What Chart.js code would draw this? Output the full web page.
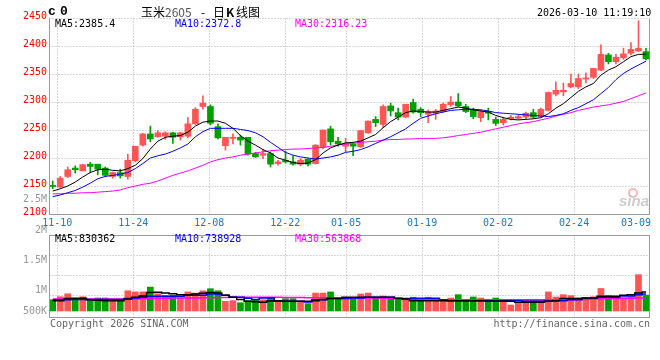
<!DOCTYPE html>
<html><head><meta charset="utf-8">
<script src="https://cdn.jsdelivr.net/npm/chart.js@4.4.1/dist/chart.umd.min.js"></script>
<style>html,body{margin:0;padding:0;background:#fff;}canvas{display:block;}</style>
</head><body>
<canvas id="c" width="660" height="360"></canvas>
<script>
// ---------- data ----------
const dates = ['11-07','11-10','11-11','11-12','11-13','11-14','11-17','11-18','11-19','11-20','11-21','11-24','11-25','11-26','11-27','11-28',
'12-01','12-02','12-03','12-04','12-05','12-08','12-09','12-10','12-11','12-12','12-15','12-16','12-17','12-18','12-19','12-22','12-23','12-24','12-25','12-26','12-29','12-30','12-31',
'01-05','01-06','01-07','01-08','01-09','01-12','01-13','01-14','01-15','01-16','01-19','01-20','01-21','01-22','01-23','01-26','01-27','01-28','01-29','01-30',
'02-02','02-03','02-04','02-05','02-06','02-09','02-10','02-11','02-12','02-13','02-24','02-25','02-26','02-27',
'03-02','03-03','03-04','03-05','03-06','03-09','03-10'];

const open = [2151,2148,2167,2182,2177,2189,2189,2182,2167,2174,
2167,2195,2223,2243,2238,2239,2245,2238,2239,2261,
2292,2292,2256,2222,2235,2237,2237,2208,2205,2208,
2190,2196,2193,2189,2198,2190,2219,2252,2230,2221,
2225,2220,2245,2269,2260,2293,2281,2273,2299,2287,
2278,2280,2283,2295,2300,2292,2286,2272,2283,2269,
2263,2270,2271,2273,2281,2274,2285,2314,2318,2327,
2327,2341,2344,2357,2384,2372,2379,2387,2391,2390];
const high = [2159,2167,2184,2186,2189,2192,2189,2184,2175,2180,
2207,2221,2244,2257,2249,2247,2246,2246,2272,2290,
2311,2295,2261,2237,2243,2241,2237,2210,2215,2211,
2196,2212,2204,2199,2199,2224,2250,2257,2237,2235,
2227,2249,2266,2274,2295,2298,2289,2296,2305,2290,
2286,2287,2298,2310,2315,2296,2289,2286,2289,2273,
2273,2276,2278,2282,2287,2289,2318,2336,2334,2350,
2350,2352,2360,2402,2387,2385,2396,2406,2445,2396];
const low = [2145,2147,2165,2173,2177,2174,2170,2167,2164,2164,
2162,2193,2221,2229,2237,2233,2226,2232,2236,2260,
2287,2259,2234,2214,2225,2223,2205,2201,2199,2184,
2187,2191,2187,2186,2186,2189,2216,2223,2221,2211,
2204,2219,2244,2256,2254,2275,2268,2272,2280,2274,
2263,2269,2282,2292,2292,2281,2270,2265,2268,2258,
2259,2268,2269,2270,2271,2273,2284,2311,2311,2325,
2324,2334,2342,2356,2368,2368,2376,2384,2390,2375];
const close = [2149,2164,2179,2179,2188,2185,2180,2169,2174,2168,
2196,2221,2243,2234,2245,2245,2237,2245,2261,2287,
2298,2262,2236,2237,2237,2232,2207,2202,2208,2189,
2193,2193,2189,2196,2189,2223,2250,2229,2225,2226,
2221,2249,2266,2263,2292,2284,2273,2296,2282,2281,
2283,2284,2296,2300,2293,2283,2274,2283,2280,2262,
2269,2273,2274,2280,2273,2287,2317,2321,2321,2333,
2342,2343,2360,2385,2372,2380,2386,2394,2396,2377];

const ma5 = [2141,2145,2150,2157,2166,2174,2179,2180,2178,2177,
2181,2187,2199,2216,2230,2237,2239,2240,2246,2257,
2264,2266,2266,2262,2253,2240,2230,2223,2215,2209,
2200,2196,2192,2190,2191,2197,2209,2218,2223,2227,
2228,2230,2236,2242,2254,2265,2273,2281,2284,2283,
2282,2282,2285,2288,2291,2289,2286,2284,2282,2276,
2272,2269,2268,2269,2270,2272,2279,2289,2297,2308,
2319,2327,2333,2348,2357,2363,2372,2381,2385,2385.4];
const ma10 = [2131,2134,2138,2142,2148,2155,2163,2167,2169,2171,
2174,2181,2190,2200,2204,2207,2212,2218,2225,2238,
2247,2253,2253,2253,2253,2251,2249,2245,2238,2228,
2219,2210,2205,2202,2200,2198,2200,2202,2205,2210,
2212,2215,2220,2226,2232,2238,2245,2252,2262,2271,
2275,2279,2282,2285,2286,2287,2287,2286,2284,2281,
2280,2279,2278,2277,2276,2275,2274,2276,2279,2285,
2290,2297,2304,2315,2326,2340,2351,2359,2366,2372.8];
const ma30 = [2136,2136,2137,2137,2138,2138,2139,2140,2141,2143,
2147,2150,2153,2155,2159,2164,2169,2173,2177,2182,
2187,2193,2197,2200,2202,2205,2207,2209,2211,2213,
2214,2215,2216,2216,2217,2218,2219,2221,2223,2225,
2226,2228,2229,2230,2232,2233,2233,2234,2234,2235,
2235,2235,2236,2238,2240,2242,2244,2246,2249,2252,
2255,2258,2261,2263,2265,2268,2271,2275,2278,2281,
2285,2288,2291,2293,2295,2298,2301,2306,2311,2316.23];

const volume = [490000,620000,750000,520000,620000,490000,565000,565000,490000,490000,
880000,830000,830000,1040000,750000,680000,680000,565000,830000,780000,
880000,970000,880000,420000,450000,360000,450000,470000,490000,565000,
420000,535000,535000,420000,320000,780000,780000,830000,535000,535000,
565000,740000,780000,565000,650000,565000,535000,535000,600000,450000,
600000,480000,490000,565000,710000,490000,610000,565000,450000,565000,
450000,260000,360000,490000,490000,490000,830000,610000,710000,670000,
570000,570000,620000,980000,660000,620000,580000,620000,1580000,690000];
const volMa5 = [450000,450000,540000,550000,550000,490000,470000,450000,450000,450000,
520000,600000,650000,800000,810000,780000,750000,710000,710000,740000,
770000,800000,780000,680000,600000,500000,420000,400000,380000,430000,
450000,420000,420000,420000,420000,450000,500000,540000,540000,600000,
600000,600000,600000,600000,600000,600000,550000,520000,450000,450000,
450000,450000,450000,450000,450000,450000,450000,450000,440000,440000,
440000,420000,380000,380000,380000,380000,420000,450000,540000,540000,
540000,570000,570000,640000,640000,640000,680000,710000,780000,830362];
const volMa10 = [490000,490000,490000,500000,500000,500000,500000,500000,500000,500000,
540000,570000,600000,640000,640000,640000,640000,640000,680000,680000,
680000,740000,740000,680000,600000,600000,550000,500000,570000,570000,
420000,420000,420000,420000,390000,490000,490000,540000,540000,540000,
570000,570000,600000,600000,600000,600000,540000,540000,540000,550000,
550000,550000,490000,450000,450000,450000,450000,450000,450000,450000,
450000,450000,450000,420000,420000,420000,430000,450000,450000,490000,
490000,550000,550000,600000,600000,600000,650000,650000,710000,738928];
const volMa30 = [520000,520000,520000,520000,520000,520000,520000,520000,520000,520000,
520000,530000,530000,540000,550000,550000,560000,560000,570000,570000,
580000,580000,590000,590000,600000,600000,600000,600000,600000,600000,
600000,590000,590000,590000,580000,580000,580000,580000,580000,580000,
570000,570000,560000,560000,550000,550000,540000,530000,520000,510000,
500000,500000,490000,490000,490000,490000,490000,490000,490000,490000,
490000,490000,490000,490000,490000,490000,490000,490000,490000,490000,
500000,510000,520000,530000,540000,540000,550000,550000,560000,563868];

const tickDates = ['11-10','11-24','12-08','12-22','01-05','01-19','02-02','02-24','03-09'];
const priceTicks = [2450,2400,2350,2300,2250,2200,2150,2100];
const volTicks = [2500000,2000000,1500000,1000000,500000];
const volGridLevels = [4,3,2,1,0];

// ---------- styles ----------
const UP = '#ff5555', DOWN = '#00a000';
const MONO = '"DejaVu Sans Mono", "Liberation Mono", monospace';
const isUp = i => close[i] >= open[i];
const candleColor = ctx => isUp(ctx.dataIndex) ? UP : DOWN;
const pts = arr => arr.map((v, i) => ({x: i, y: v}));

const snap = v => Math.round(v) + 0.5;
function seg(ctx, x1, y1, x2, y2){ ctx.beginPath(); ctx.moveTo(x1, y1); ctx.lineTo(x2, y2); ctx.stroke(); }

const panels = {
  id: 'panels',
  beforeDatasetsDraw(chart){
    const {ctx, scales, chartArea} = chart;
    const L = snap(chartArea.left) - 1, R = snap(chartArea.right) - 1;
    const pTop = snap(scales.yp.getPixelForValue(priceTicks[0]));
    const pBot = snap(scales.yp.getPixelForValue(priceTicks[priceTicks.length - 1]));
    const vTop = snap(scales.yg.getPixelForValue(volGridLevels[0]));
    const vBot = snap(chartArea.bottom) - 1;
    ctx.save();
    ctx.lineWidth = 1;
    ctx.strokeStyle = '#b0b0b0';
    ctx.setLineDash([1, 2]);
    priceTicks.slice(0, -1).forEach(v => { const y = snap(scales.yp.getPixelForValue(v)); seg(ctx, L, y, R, y); });
    const k0 = dates.indexOf(tickDates[0]);
    tickDates.forEach(d => {
      const x = snap(scales.xg.getPixelForValue(dates.indexOf(d) - k0));
      if (x < R - 10) { seg(ctx, x, pTop, x, pBot); seg(ctx, x, vTop, x, vBot); }
    });
    volGridLevels.slice(1, -1).forEach(g => { const y = snap(scales.yg.getPixelForValue(g)); seg(ctx, L, y, R, y); });
    ctx.setLineDash([]);
    ctx.strokeStyle = '#999';
    seg(ctx, L, pTop, L, pBot); seg(ctx, R, pTop, R, pBot); seg(ctx, L, pBot, R, pBot);
    ctx.strokeRect(L, vTop, R - L, vBot - vTop);
    ctx.restore();
  },
  afterDraw(chart){
    const {ctx, scales, chartArea} = chart;
    ctx.save();
    ctx.textBaseline = 'middle';
    ctx.font = '10px ' + MONO;
    // price axis labels
    ctx.fillStyle = '#ff0000'; ctx.textAlign = 'right';
    priceTicks.forEach(v => ctx.fillText(String(v), chartArea.left - 3, scales.yp.getPixelForValue(v) - 2));
    // volume axis labels
    ctx.fillStyle = '#999';
    const base = scales.yv.getPixelForValue(0);
    volTicks.forEach(v => {
      const t = v >= 1e6 ? (v / 1e6) + 'M' : (v / 1e3) + 'K';
      ctx.fillText(t, chartArea.left - 3, Math.min(scales.yl.getPixelForValue(v), base));
    });
    // x labels
    ctx.fillStyle = '#1a78c8'; ctx.textAlign = 'center';
    const k0 = dates.indexOf(tickDates[0]);
    tickDates.forEach(d => {
      const w = ctx.measureText(d).width;
      let x = scales.xg.getPixelForValue(dates.indexOf(d) - k0);
      x = Math.min(x, chartArea.right + 1 - w / 2);
      ctx.fillText(d, x, 223);
    });
    // legends
    ctx.textAlign = 'left';
    const n = dates.length - 1;
    const leg = (y, a, b, c) => {
      ctx.fillStyle = '#000'; ctx.fillText('MA5:' + a, 55, y);
      ctx.fillStyle = '#0000ff'; ctx.fillText('MA10:' + b, 175, y);
      ctx.fillStyle = '#ff00ff'; ctx.fillText('MA30:' + c, 295, y);
    };
    leg(24, ma5[n], ma10[n], ma30[n]);
    leg(239, volMa5[n], volMa10[n], volMa30[n]);
    // header
    ctx.fillStyle = '#000';
    ctx.fillText('2026-03-10 11:19:10', 537, 13);
    ctx.font = 'bold 13px "Liberation Mono", monospace';
    ctx.fillText('c', 48, 12);
    ctx.fillText('0', 60, 12);
    const cjk = '"Noto Sans CJK SC", sans-serif';
    ctx.font = '12px ' + cjk; ctx.fillText('玉米', 141, 12);
    ctx.fillStyle = '#555'; ctx.fillText('2605', 165, 12);
    ctx.fillStyle = '#000'; ctx.fillText('-', 201, 12);
    ctx.fillText('日', 213, 12);
    ctx.font = 'bold 12px ' + cjk; ctx.fillText('K', 226, 12);
    ctx.font = '12px ' + cjk; ctx.fillText('线图', 236, 12);
    // footer
    ctx.font = '10px ' + MONO; ctx.fillStyle = '#666';
    ctx.fillText('Copyright 2026 SINA.COM', 50, 324);
    ctx.textAlign = 'right';
    ctx.fillText('http://finance.sina.com.cn', 650, 324);
    // watermark
    ctx.textAlign = 'left';
    ctx.strokeStyle = 'rgba(235,140,140,0.6)'; ctx.lineWidth = 2;
    ctx.beginPath(); ctx.arc(633, 193, 4, 0, Math.PI * 2); ctx.stroke();
    ctx.fillStyle = 'rgba(170,170,170,0.6)';
    ctx.font = 'italic bold 15px "Liberation Sans", sans-serif';
    ctx.fillText('sina', 619, 202);
    ctx.restore();
  }
};

new Chart(document.getElementById('c'), {
  data: {
    datasets: [
      {type: 'line', label: 'MA5', data: pts(ma5), xAxisID: 'x', yAxisID: 'yp', borderColor: '#000', borderWidth: 1, pointRadius: 0, order: 1},
      {type: 'line', label: 'MA10', data: pts(ma10), xAxisID: 'x', yAxisID: 'yp', borderColor: '#0000ff', borderWidth: 1, pointRadius: 0, order: 1},
      {type: 'line', label: 'MA30', data: pts(ma30), xAxisID: 'x', yAxisID: 'yp', borderColor: '#ff00ff', borderWidth: 1, pointRadius: 0, order: 1},
      {type: 'bar', label: 'body', data: dates.map((d, i) => ({x: i, y: [open[i], close[i]]})), xAxisID: 'x', yAxisID: 'yp',
        backgroundColor: candleColor, barThickness: 6, minBarLength: 1, grouped: false, order: 2},
      {type: 'bar', label: 'wick', data: dates.map((d, i) => ({x: i, y: [low[i], high[i]]})), xAxisID: 'x', yAxisID: 'yp',
        backgroundColor: candleColor, barThickness: 1, grouped: false, order: 3},
      {type: 'line', label: 'VMA5', data: pts(volMa5), xAxisID: 'x', yAxisID: 'yv', borderColor: '#000', borderWidth: 1.5, pointRadius: 0, stepped: 'middle', order: 1},
      {type: 'line', label: 'VMA10', data: pts(volMa10), xAxisID: 'x', yAxisID: 'yv', borderColor: '#0000ff', borderWidth: 1.5, pointRadius: 0, stepped: 'middle', order: 1},
      {type: 'line', label: 'VMA30', data: pts(volMa30), xAxisID: 'x', yAxisID: 'yv', borderColor: '#ff00ff', borderWidth: 1.5, pointRadius: 0, stepped: 'middle', order: 1},
      {type: 'bar', label: 'volume', data: pts(volume), xAxisID: 'x', yAxisID: 'yv',
        backgroundColor: candleColor, barThickness: 6, grouped: false, order: 3}
    ]
  },
  options: {
    responsive: false, animation: false, devicePixelRatio: 1, events: [],
    layout: {padding: {left: 50, right: 10, top: 18, bottom: 42}},
    plugins: {legend: {display: false}, tooltip: {enabled: false}},
    scales: {
      x:  {type: 'linear', position: 'bottom', display: false, offset: false, min: -0.3595, max: 79.534},
      xg: {type: 'linear', position: 'bottom', display: false, offset: false, min: -0.9605, max: 77.987},
      yp: {type: 'linear', position: 'left', display: false, min: 1914.2857, max: 2450},
      yv: {type: 'linear', position: 'left', display: false, min: -304348, max: 12739130},
      yl: {type: 'linear', position: 'left', display: false, min: 552632, max: 5486842},
      yg: {type: 'linear', position: 'left', display: false, min: -0.15, max: 14.85}
    }
  },
  plugins: [panels]
});
</script>
</body></html>
